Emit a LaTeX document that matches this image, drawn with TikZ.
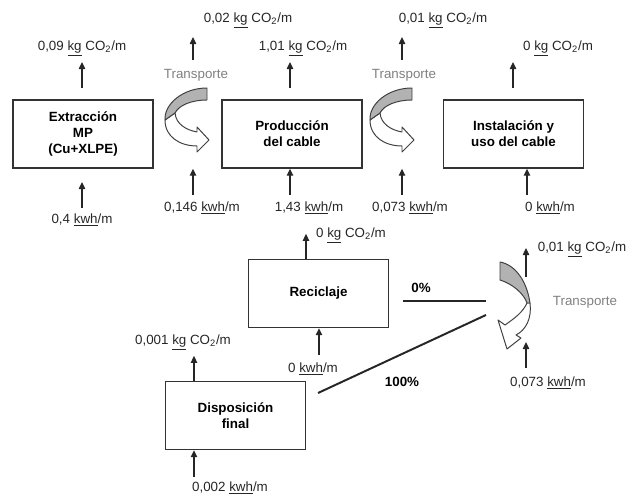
\documentclass[tikz,border=0pt]{standalone}
\usepackage{fontspec}
\setmainfont{Liberation Sans}
\usepackage{xcolor}
\usetikzlibrary{arrows.meta, positioning}

\newcommand{\spk}[1]{\underline{#1}}
\newcommand{\cotwo}{CO\textsubscript{2}/m}

\begin{document}
\begin{tikzpicture}[
    x=0.025cm, y=-0.025cm,
    >=Stealth,
    procbox/.style={draw=black!80, line width=1pt, minimum width=3.5cm, minimum height=1.7cm,
                    align=center, font=\bfseries\fontsize{9.5}{11.5}\selectfont},
    valnode/.style={inner sep=0pt, text=black!85, font=\fontsize{9.5}{11}\selectfont},
    trnode/.style={inner sep=0pt, text=black!50, font=\fontsize{9.5}{11}\selectfont},
    pctnode/.style={inner sep=0pt, font=\bfseries\fontsize{9.5}{11}\selectfont},
    flowarrow/.style={-{Triangle[length=5pt,width=4.5pt]}, line width=1pt, black!85},
    splitline/.style={line width=1.4pt, black!85},
    ribbon/.style={draw=black!75, line width=0.7pt, line join=round},
    pics/transport/.style={code={
        \draw[ribbon, fill=white] (-12,-7) .. controls (-11,4) and (-1,10) .. (10,12) -- (10,7)
            -- (22,20) -- (10,32) -- (10,26) .. controls (-7,26) and (-22,17) .. (-22,0) -- cycle;
        \draw[ribbon, fill=black!30] (20,-32) -- (20,-20) .. controls (5,-20) and (-8,-15) .. (-12,-7)
            -- (-22,0) .. controls (-23,-16) and (-4,-32) .. (20,-32) -- cycle;
    }}
]
\useasboundingbox (0,0) rectangle (632,497);

% --- Process boxes ---
\node[procbox] (extr)  at (83,134)     {Extracción\\MP\\(Cu+XLPE)};
\node[procbox] (prod)  at (292,134)    {Producción\\del cable};
\node[procbox] (inst)  at (513.5,134)  {Instalación y\\uso del cable};
\node[procbox] (recic) at (318.5,293.5) {Reciclaje};
\node[procbox] (disp)  at (235.5,415.5) {Disposición\\final};

% --- Emissions and energy values ---
\node[valnode] (co2A)  at (82,48)   {0,09 \spk{kg} \cotwo};
\node[valnode] (kwhA)  at (82,220)  {0,4 \spk{kwh}/m};
\node[valnode] (co2B)  at (303,48)  {1,01 \spk{kg} \cotwo};
\node[valnode] (kwhB)  at (309,208) {1,43 \spk{kwh}/m};
\node[valnode] (co2C)  at (558,48)  {0 \spk{kg} \cotwo};
\node[valnode] (kwhC)  at (550,208) {0 \spk{kwh}/m};
\node[valnode] (co2R)  at (351,235) {0 \spk{kg} \cotwo};
\node[valnode] (kwhR)  at (313,369) {0 \spk{kwh}/m};
\node[valnode] (co2D)  at (183,342) {0,001 \spk{kg} \cotwo};
\node[valnode] (kwhD)  at (230,488) {0,002 \spk{kwh}/m};

% --- Transport steps ---
\node[valnode] (co2T1) at (248,20)  {0,02 \spk{kg} \cotwo};
\node[trnode]  (trA)   at (196,75)  {Transporte};
\node[valnode] (kwhT1) at (202,208) {0,146 \spk{kwh}/m};
\node[valnode] (co2T2) at (443,20)  {0,01 \spk{kg} \cotwo};
\node[trnode]  (trB)   at (404,75)  {Transporte};
\node[valnode] (kwhT2) at (410,208) {0,073 \spk{kwh}/m};
\node[valnode] (co2T3) at (582,249) {0,01 \spk{kg} \cotwo};
\node[trnode]  (trC)   at (585,302) {Transporte};
\node[valnode] (kwhT3) at (548,383) {0,073 \spk{kwh}/m};

\pic at (187,120) {transport};
\pic at (392,120) {transport};

% return transport (bends the other way)
\draw[ribbon, fill=white] (530,303) .. controls (532,318) and (526,330) .. (516,335) -- (521,338)
    -- (507,349) -- (498,320) -- (505,325) .. controls (515,318) and (523,312) .. (527,303) -- cycle;
\draw[ribbon, fill=black!30] (500,262) .. controls (516,265) and (527,282) .. (530,303) -- (527,303)
    .. controls (524,294) and (513,284) .. (500,280) -- cycle;

% --- Arrow tails ---
\coordinate (tA)  at (82,88);   \coordinate (bA)  at (82,208);
\coordinate (tT1) at (193,60);  \coordinate (bT1) at (193,195);
\coordinate (tB)  at (290,88);  \coordinate (bB)  at (290,195);
\coordinate (tT2) at (402,60);  \coordinate (bT2) at (402,195);
\coordinate (tC)  at (513,88);  \coordinate (bC)  at (527,195);
\coordinate (tR)  at (306,0);   \coordinate (bR)  at (319,355);
\coordinate (tD)  at (194,0);   \coordinate (bD)  at (194,477);
\coordinate (tT3) at (526,277); \coordinate (bT3) at (526,368);

\draw[flowarrow] (tA)  -- ++(0,-26);
\draw[flowarrow] (bA)  -- ++(0,-26);
\draw[flowarrow] (tT1) -- ++(0,-23);
\draw[flowarrow] (bT1) -- (bT1 |- extr.south);
\draw[flowarrow] (tB)  -- ++(0,-26);
\draw[flowarrow] (bB)  -- (bB |- prod.south);
\draw[flowarrow] (tT2) -- ++(0,-23);
\draw[flowarrow] (bT2) -- (bT2 |- prod.south);
\draw[flowarrow] (tC)  -- ++(0,-26);
\draw[flowarrow] (bC)  -- (bC |- inst.south);
\draw[flowarrow] (tR |- recic.north) -- ++(0,-25);
\draw[flowarrow] (bR)  -- (bR |- recic.south);
\draw[flowarrow] (tD |- disp.north) -- ++(0,-25);
\draw[flowarrow] (bD)  -- (bD |- disp.south);
\draw[flowarrow] (tT3) -- ++(0,-29);
\draw[flowarrow] (bT3) -- ++(0,-26);

% --- Split after use ---
\coordinate (sp0a) at (403,301);  \coordinate (sp0b) at (486,301);
\coordinate (sp1a) at (318,393);  \coordinate (sp1b) at (486,315);
\draw[splitline] (sp0a) -- (sp0b);
\draw[splitline] (sp1a) -- (sp1b);
\node[pctnode] (pct0)   at (421,288) {0\%};
\node[pctnode] (pct100) at (402,382) {100\%};

\end{tikzpicture}
\end{document}
